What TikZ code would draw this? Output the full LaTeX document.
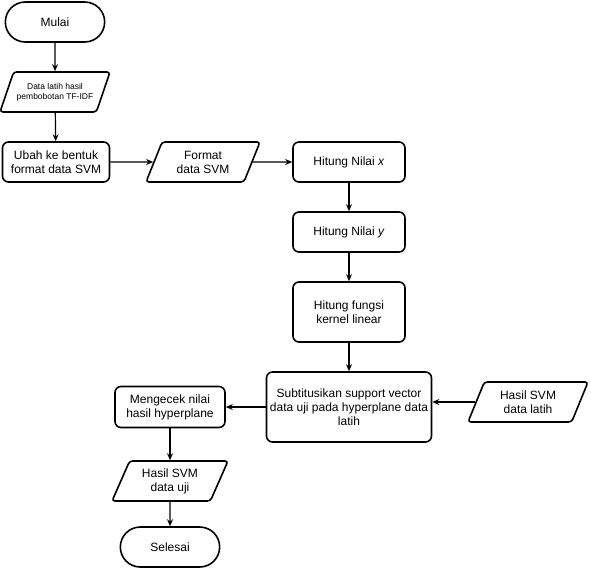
\documentclass[tikz,border=0pt]{standalone}
\usepackage{fontspec}
\setmainfont{Liberation Sans}
\usetikzlibrary{shapes.geometric,shapes.misc,arrows.meta}

\begin{document}
\begin{tikzpicture}[x=1pt, y=-1pt,
	font=\fontsize{12}{14}\selectfont,
	terminal/.style={draw, line width=1.6pt, rounded rectangle,
	                 minimum width=106pt, minimum height=40pt},
	process/.style={draw, line width=1.6pt, rounded corners=6pt, align=center,
	                minimum width=112pt, minimum height=40pt},
	data/.style={draw, line width=1.6pt, trapezium, trapezium left angle=61,
	             trapezium right angle=119, trapezium stretches body,
	             rounded corners=3pt, align=center, inner xsep=0pt,
	             minimum width=116pt, minimum height=40pt},
	wire/.style={line width=1.2pt, -{Stealth[length=7pt, width=6pt]}}]
	\useasboundingbox (0,0) rectangle (591,579);
	
	% Nodes
	\node (mulai) at (55,22) [terminal] {Mulai};
	\node (latih) at (55,92) [data, minimum width=110pt,
	      font=\fontsize{8.5}{10}\selectfont]
	      {Data latih hasil\\pembobotan TF-IDF};
	\node (ubah) at (56,162) [process, minimum width=107pt]
	      {Ubah ke bentuk\\format data SVM};
	\node (format) at (203,162) [data, minimum width=114pt] {Format\\data SVM};
	\node (nilaix) at (349,162) [process] {Hitung Nilai \textit{x}};
	\node (nilaiy) at (349,232) [process] {Hitung Nilai \textit{y}};
	\node (kernel) at (349,312) [process, minimum height=60pt]
	      {Hitung fungsi\\kernel linear};
	\node (subtitusi) at (349,407) [process, minimum width=165pt, minimum height=70pt]
	      {Subtitusikan support vector\\data uji pada hyperplane data\\latih};
	\node (hasillatih) at (528,402) [data, minimum width=120pt]
	      {Hasil SVM\\data latih};
	\node (cek) at (170,407) [process, minimum width=110pt, minimum height=41pt]
	      {Mengecek nilai\\hasil hyperplane};
	\node (hasiluji) at (170,481) [data] {Hasil SVM\\data uji};
	\node (selesai) at (170,547) [terminal] {Selesai};
	
	% Arrows
	\draw [wire] (mulai) -- (latih);
	\draw [wire] (latih) -- (ubah);
	\draw [wire] (ubah) -- (format);
	\draw [wire] (format) -- (nilaix);
	\draw [wire] (nilaix) -- (nilaiy);
	\draw [wire] (nilaiy) -- (kernel);
	\draw [wire] (kernel) -- (subtitusi);
	\draw [wire] (hasillatih.west) -- (hasillatih.west -| subtitusi.east);
	\draw [wire] (subtitusi) -- (cek);
	\draw [wire] (cek) -- (hasiluji);
	\draw [wire] (hasiluji) -- (selesai);
\end{tikzpicture}
\end{document}
